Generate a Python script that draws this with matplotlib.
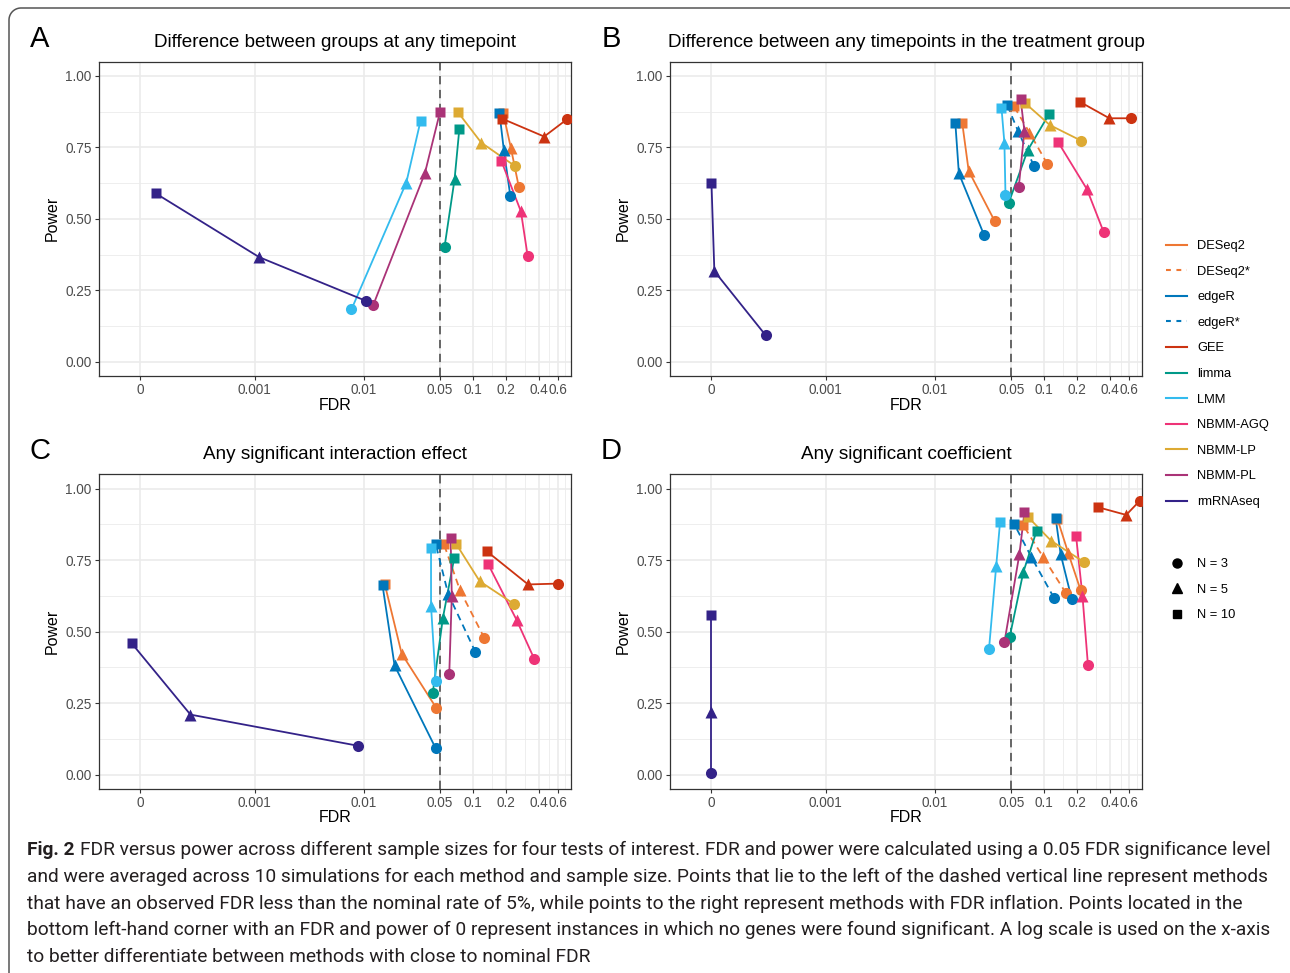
import numpy as np
import matplotlib
matplotlib.use("Agg")
import matplotlib.pyplot as plt
from matplotlib.lines import Line2D
from matplotlib import font_manager

# methods, colours and line types (legend order)
methods = ["DESeq2", "DESeq2*", "edgeR", "edgeR*", "GEE", "limma", "LMM",
           "NBMM-AGQ", "NBMM-LP", "NBMM-PL", "rmRNAseq"]
colours = ["#EE7733", "#EE7733", "#0077BB", "#0077BB", "#CC3311", "#009988",
           "#33BBEE", "#EE3377", "#DDAA33", "#AA3377", "#332288"]
dashed = [False, True, False, True, False, False, False, False, False, False, False]
sizes = ["N = 3", "N = 5", "N = 10"]
shapes = ["o", "^", "s"]

titles = ["Difference between groups at any timepoint",
          "Difference between any timepoints in the treatment group",
          "Any significant interaction effect",
          "Any significant coefficient"]
letters = ["A", "B", "C", "D"]

x_breaks = [0, 0.001, 0.01, 0.05, 0.1, 0.2, 0.4, 0.6]
x_labels = ["0", "0.001", "0.01", "0.05", "0.1", "0.2", "0.4", "0.6"]
x_minor = [0.15, 0.3, 0.5, 0.7]
y_breaks = [0, 0.25, 0.5, 0.75, 1.0]
y_labels = ["0.00", "0.25", "0.50", "0.75", "1.00"]
y_minor = [0.125, 0.375, 0.625, 0.875]

# values per method, ordered N = 3, 5, 10
fdr_a = [[0.263, 0.223, 0.189], None, [0.220, 0.192, 0.175], None,
         [0.729, 0.449, 0.184], [0.0551, 0.0680, 0.0751], [0.00774, 0.0246, 0.0332],
         [0.317, 0.275, 0.182], [0.242, 0.119, 0.0724], [0.0123, 0.0364, 0.0500],
         [0.0105, 0.0011, 0.00006]]
pow_a = [[0.612, 0.747, 0.871], None, [0.580, 0.740, 0.871], None,
         [0.849, 0.788, 0.851], [0.403, 0.639, 0.813], [0.183, 0.627, 0.843],
         [0.370, 0.526, 0.703], [0.685, 0.767, 0.875], [0.200, 0.660, 0.874],
         [0.213, 0.366, 0.589]]

fdr_b = [[0.0353, 0.0204, 0.0178], [0.107, 0.0734, 0.0527], [0.0281, 0.0166, 0.0154],
         [0.0805, 0.0576, 0.046], [0.626, 0.395, 0.211], [0.0474, 0.0707, 0.111],
         [0.0443, 0.0433, 0.0407], [0.350, 0.246, 0.134], [0.2195, 0.113, 0.0666],
         [0.0586, 0.066, 0.0608], [0.000254, 0.000011, 0.0]]
pow_b = [[0.492, 0.668, 0.837], [0.692, 0.802, 0.895], [0.445, 0.659, 0.837],
         [0.686, 0.808, 0.898], [0.852, 0.852, 0.910], [0.556, 0.740, 0.867],
         [0.583, 0.766, 0.889], [0.454, 0.604, 0.769], [0.773, 0.828, 0.906],
         [0.612, 0.808, 0.921], [0.093, 0.317, 0.624]]

fdr_c = [[0.0463, 0.0223, 0.0156], [0.1275, 0.0763, 0.0543], [0.0457, 0.0192, 0.0149],
         [0.1056, 0.0594, 0.0457], [0.603, 0.320, 0.134], [0.0429, 0.0531, 0.0676],
         [0.0457, 0.0414, 0.0414], [0.364, 0.251, 0.137], [0.237, 0.1155, 0.0702],
         [0.0608, 0.0641, 0.0626], [0.00893, 0.000229, -0.000033]]
pow_c = [[0.233, 0.423, 0.667], [0.477, 0.644, 0.806], [0.092, 0.382, 0.662],
         [0.428, 0.632, 0.806], [0.668, 0.665, 0.781], [0.285, 0.547, 0.759],
         [0.328, 0.589, 0.792], [0.405, 0.541, 0.738], [0.597, 0.676, 0.807],
         [0.353, 0.624, 0.827], [0.101, 0.210, 0.459]]

fdr_d = [[0.216, 0.166, 0.1323], [0.1586, 0.0979, 0.0641], [0.179, 0.1415, 0.1275],
         [0.1226, 0.0763, 0.0534], [0.751, 0.563, 0.310], [0.0485, 0.0645, 0.0854],
         [0.0313, 0.0364, 0.0395], [0.2514, 0.224, 0.1957], [0.2316, 0.1155, 0.0707],
         [0.0433, 0.0594, 0.066], [0.0, 0.0, 0.0]]
pow_d = [[0.644, 0.775, 0.894], [0.634, 0.761, 0.873], [0.613, 0.771, 0.896],
         [0.619, 0.761, 0.875], [0.958, 0.908, 0.935], [0.483, 0.708, 0.853],
         [0.439, 0.728, 0.882], [0.384, 0.626, 0.835], [0.743, 0.818, 0.902],
         [0.463, 0.771, 0.917], [0.005, 0.219, 0.558]]

caption_lines = [
    "FDR versus power across different sample sizes for four tests of interest. FDR and power were calculated using a 0.05 FDR significance level",
    "and were averaged across 10 simulations for each method and sample size. Points that lie to the left of the dashed vertical line represent methods",
    "that have an observed FDR less than the nominal rate of 5%, while points to the right represent methods with FDR inflation. Points located in the",
    "bottom left-hand corner with an FDR and power of 0 represent instances in which no genes were found significant. A log scale is used on the x-axis",
    "to better differentiate between methods with close to nominal FDR",
]


def pick_font(names):
    for n in names:
        try:
            font_manager.findfont(n, fallback_to_default=False)
            return n
        except Exception:
            pass
    return "DejaVu Sans"


main_font = pick_font(["Liberation Sans", "Noto Sans"])
cap_font = pick_font(["Liberation Sans Narrow", "Roboto", "Liberation Sans"])
plt.rcParams["font.family"] = [main_font, "DejaVu Sans"]
plt.rcParams["lines.scale_dashes"] = False

SIGMA = 9.07e-5


def fwd(x):
    return np.arcsinh(np.asarray(x, dtype=float) / (2 * SIGMA)) / np.log(10)


def inv(u):
    return 2 * SIGMA * np.sinh(np.asarray(u, dtype=float) * np.log(10))


W, H = 1290, 973
fig = plt.figure(figsize=(W / 100, H / 100), dpi=100)

boxes = [(98.5, 61.7, 571, 376), (669.6, 61.7, 1142.3, 376),
         (98.5, 474.3, 571, 789), (669.6, 474.3, 1142.3, 789)]
fdrs = [fdr_a, fdr_b, fdr_c, fdr_d]
pows = [pow_a, pow_b, pow_c, pow_d]
dash = (5, 3.5)

for k in range(4):
    l, t, r, b = boxes[k]
    ax = fig.add_axes([l / W, 1 - b / H, (r - l) / W, (b - t) / H])
    ax.set_xscale("function", functions=(fwd, inv))
    ax.set_xlim(inv(-0.383), inv(3.94))
    ax.set_ylim(-0.05, 1.05)

    ax.axvline(0.05, color="#666666", lw=1.4, dashes=(6, 4), zorder=1.5)
    for i in range(len(methods)):
        if fdrs[k][i] is None:
            continue
        ln, = ax.plot(fdrs[k][i], pows[k][i], color=colours[i], lw=1.3, zorder=2)
        if dashed[i]:
            ln.set_dashes(dash)
    for i in range(len(methods)):
        if fdrs[k][i] is None:
            continue
        for j in range(3):
            ax.plot(fdrs[k][i][j], pows[k][i][j], marker=shapes[j], ls="none",
                    color=colours[i], mec="none",
                    ms=[8.0, 9.0, 7.6][j], zorder=3)

    ax.set_xticks(x_breaks)
    ax.set_xticklabels(x_labels)
    ax.set_xticks(x_minor, minor=True)
    ax.set_yticks(y_breaks)
    ax.set_yticklabels(y_labels)
    ax.set_yticks(y_minor, minor=True)
    ax.grid(which="major", color="#EBEBEB", lw=1.2)
    ax.grid(which="minor", color="#EBEBEB", lw=0.6)
    ax.set_axisbelow(True)
    ax.tick_params(which="major", length=3, width=0.8, color="#333333",
                   labelsize=9.8, labelcolor="#4D4D4D", pad=2)
    ax.tick_params(which="minor", length=0)
    for s in ax.spines.values():
        s.set_color("#333333")
        s.set_linewidth(0.9)

    hpx = b - t
    ax.text(0.5, 1 + 19.5 / hpx, titles[k], transform=ax.transAxes,
            ha="center", va="center", fontsize=13.6, color="black")
    fig.text((l - 58.5) / W, 1 - (t - 23) / H, letters[k], ha="center", va="center",
             fontsize=21)
    fig.text((l - 46) / W, 1 - ((t + b) / 2) / H, "Power", rotation=90,
             ha="center", va="center", fontsize=11.5)
    fig.text(((l + r) / 2) / W, 1 - (b + 29) / H, "FDR", ha="center", va="center",
             fontsize=11.5)

# legends
meth_handles = []
for i, m in enumerate(methods):
    h = Line2D([], [], color=colours[i], lw=1.5)
    if dashed[i]:
        h.set_dashes((3.5, 4))
    meth_handles.append(h)
leg1 = fig.legend(meth_handles, methods, loc="upper left",
                  bbox_to_anchor=(1166 / W, 1 - 240 / H), frameon=False,
                  fontsize=9.3, handlelength=1.65, handletextpad=0.75,
                  labelspacing=1.05, borderpad=0, borderaxespad=0)
shape_handles = [Line2D([], [], marker=shapes[j], ls="none", color="black",
                        ms=[6.5, 7.5, 6.2][j]) for j in range(3)]
leg2 = fig.legend(shape_handles, sizes, loc="upper left",
                  bbox_to_anchor=(1166 / W, 1 - 558 / H), frameon=False,
                  fontsize=9.3, handlelength=1.65, handletextpad=0.75,
                  labelspacing=1.05, borderpad=0, borderaxespad=0)

# figure frame with rounded top-left corner
rad = 12
arc = np.linspace(np.pi, np.pi / 2, 20)
fx = np.concatenate([[9], 9 + rad + rad * np.cos(arc), [W + 5]])
fy = np.concatenate([[H + 5], 8 + rad - rad * np.sin(arc), [8]])
fig.add_artist(Line2D(fx / W, 1 - fy / H, transform=fig.transFigure,
                      color="#555555", lw=1.1))

# caption
fig.canvas.draw()
rend = fig.canvas.get_renderer()
cap_size = 13.5
probe = fig.text(0, 0, caption_lines[3], fontsize=cap_size, family=[cap_font, "DejaVu Sans"])
wpx = probe.get_window_extent(rend).width
probe.remove()
cap_size = cap_size * (1275 - 27) / wpx

line_y = [850, 877, 904, 930, 957]
bold = fig.text(27 / W, 1 - line_y[0] / H, "Fig. 2", fontsize=cap_size, weight="bold",
                family=[cap_font, "DejaVu Sans"], va="center", color="#231F20")
bw = bold.get_window_extent(rend).width
for n, txt in enumerate(caption_lines):
    x0 = 27 + (bw + 5 if n == 0 else 0)
    fig.text(x0 / W, 1 - line_y[n] / H, txt, fontsize=cap_size,
             family=[cap_font, "DejaVu Sans"], va="center", color="#231F20")

fig.savefig("out.png", dpi=100)
